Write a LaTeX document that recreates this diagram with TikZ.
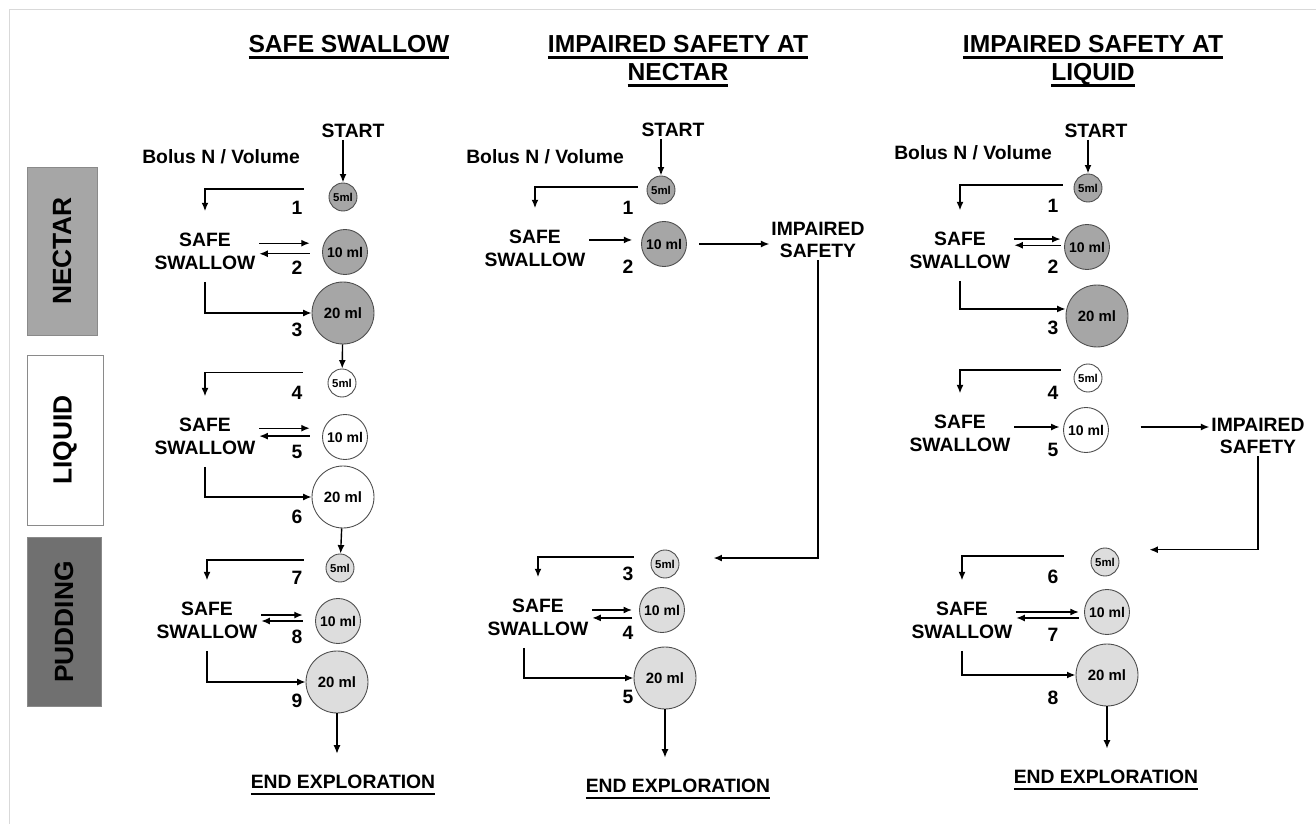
\documentclass[tikz,border=0pt]{standalone}
\usepackage{fontspec}
\setmainfont{Liberation Sans}
\usetikzlibrary{arrows.meta}
\definecolor{Nectar}{HTML}{A6A6A6}
\definecolor{Pudding}{HTML}{707070}
\definecolor{Light}{HTML}{DDDDDD}
\definecolor{Edge}{HTML}{8A8A8A}
\newcommand{\ulbar}[1]{\setbox0\hbox{#1}\rlap{\rule[-3.5pt]{\wd0}{1.3pt}}\box0}

\begin{document}
\begin{tikzpicture}[x=0.02cm,y=-0.02cm,
  title/.style={font=\bfseries\fontsize{14}{16}\selectfont,align=center},
  lbl/.style={font=\bfseries\fontsize{11}{13}\selectfont,inner sep=1pt},
  ss/.style={lbl,align=center,inner xsep=2pt,inner ysep=7pt},
  bolus/.style={circle,draw=black!70,line width=.5pt,inner sep=0pt,
    font=\bfseries\fontsize{8}{9}\selectfont},
  s5/.style={bolus,minimum size=.56cm,font=\bfseries\fontsize{6.5}{7}\selectfont},
  s10/.style={bolus,minimum size=.9cm},
  s20/.style={bolus,minimum size=1.24cm,font=\bfseries\fontsize{8.5}{9}\selectfont},
  nec/.style={fill=Nectar},liq/.style={fill=white},pud/.style={fill=Light},
  bar/.style={draw=Edge,rotate=90,font=\bfseries\fontsize{15}{17}\selectfont},
  arrow/.style={-{Latex[length=1.7mm,width=1.4mm]},line width=.8pt}]
\useasboundingbox (0,0) rectangle (1316,824);
\draw[black!15] (9,824) -- (9,9) -- (1316,9);

% consistency bars
\node[bar,fill=Nectar,minimum width=3.36cm,minimum height=1.4cm](nectar) at (62,251){NECTAR};
\node[bar,fill=white,minimum width=3.4cm,minimum height=1.52cm](liquid) at (65,440){LIQUID};
\node[bar,fill=Pudding,minimum width=3.38cm,minimum height=1.48cm](pudding) at (64,622){PUDDING};

% safe swallow
\node[title](aT) at (349,47){\ulbar{SAFE SWALLOW}};
\node[lbl](aS) at (353,131){START};
\node[lbl](aB) at (221,157){Bolus N / Volume};
\node[s5,nec](aN5) at (343,197){5ml};
\node[s10,nec](aN10) at (345,252){10 ml};
\node[s20,nec](aN20) at (343,313){20 ml};
\node[lbl](a1) at (297,208){1};
\node[lbl](a2) at (297,268){2};
\node[lbl](a3) at (297,330){3};
\node[ss](aNs) at (205,251){SAFE\\SWALLOW};
\node[s5,liq](aL5) at (342,383){5ml};
\node[s10,liq](aL10) at (345,437){10 ml};
\node[s20,liq](aL20) at (343,497){20 ml};
\node[lbl](a4) at (297,393){4};
\node[lbl](a5) at (297,452){5};
\node[lbl](a6) at (297,517){6};
\node[ss](aLs) at (205,436){SAFE\\SWALLOW};
\node[s5,pud](aP5) at (340,568){5ml};
\node[s10,pud](aP10) at (338,621){10 ml};
\node[s20,pud](aP20) at (337,682){20 ml};
\node[lbl](a7) at (297,578){7};
\node[lbl](a8) at (297,637){8};
\node[lbl](a9) at (297,701){9};
\node[ss](aPs) at (207,620){SAFE\\SWALLOW};
\node[lbl](aE) at (343,785){\ulbar{END EXPLORATION}};

\draw[arrow,line width=1.1pt](aS.south -| aN5)--(aN5);
\draw[arrow,line width=1.1pt]([xshift=-.5cm,yshift=4.5pt]aN5.west)-|([yshift=5pt]aNs.north);
\draw[arrow,shorten >=7pt]([yshift=5pt]aN10.west -| aNs.east)--([yshift=5pt]aN10.west);
\draw[arrow,shorten <=7pt]([yshift=-1pt]aN10.west)--([yshift=-1pt]aN10.west -| aNs.east);
\draw[arrow](aNs.south)|-(aN20.west);
\draw[arrow](aN20)--(aL5);
\draw[arrow]([xshift=-.5cm,yshift=6pt]aL5.west)-|([yshift=5pt]aLs.north);
\draw[arrow,shorten >=7pt]([yshift=5pt]aL10.west -| aLs.east)--([yshift=5pt]aL10.west);
\draw[arrow,shorten <=7pt]([yshift=.5pt]aL10.west)--([yshift=.5pt]aL10.west -| aLs.east);
\draw[arrow](aLs.south)|-(aL20.west);
\draw[arrow](aL20)--(aP5);
\draw[arrow]([xshift=-.44cm,yshift=4.5pt]aP5.west)-|([yshift=5pt]aPs.north);
\draw[arrow,shorten >=7pt]([yshift=3.4pt]aP10.west -| aPs.east)--([yshift=3.4pt]aP10.west);
\draw[arrow,shorten <=7pt](aP10.west)--(aP10.west -| aPs.east);
\draw[arrow](aPs.south)|-(aP20.west);
\draw[arrow,shorten >=11pt](aP20)--(aP20 |- aE.north);

% impaired safety at nectar
\node[title](bT) at (678,61){\ulbar{IMPAIRED SAFETY AT}\\\ulbar{NECTAR}};
\node[lbl](bS) at (673,130){START};
\node[lbl](bB) at (545,157){Bolus N / Volume};
\node[s5,nec](bN5) at (661,190){5ml};
\node[s10,nec](bN10) at (664,244){10 ml};
\node[lbl](b1) at (628,208){1};
\node[lbl](b2) at (628,267){2};
\node[ss](bNs) at (535,248){SAFE\\SWALLOW};
\node[lbl,align=center](bI) at (818,240){IMPAIRED\\SAFETY};
\node[s5,pud](bP5) at (665,564){5ml};
\node[s10,pud](bP10) at (662,610){10 ml};
\node[s20,pud](bP20) at (665,678){20 ml};
\node[lbl](b3) at (628,574){3};
\node[lbl](b4) at (628,633){4};
\node[lbl](b5) at (628,697){5};
\node[ss](bPs) at (538,617){SAFE\\SWALLOW};
\node[lbl](bE) at (678,789){\ulbar{END EXPLORATION}};

\draw[arrow,line width=1.1pt](bS.south -| bN5)--(bN5);
\draw[arrow,line width=1.1pt]([xshift=-.18cm,yshift=1.7pt]bN5.west)-|([yshift=5pt]bNs.north);
\draw[arrow,shorten >=5pt]([yshift=2.3pt]bN10.west -| bNs.east)--([yshift=2.3pt]bN10.west);
\draw[arrow,shorten <=7pt](bN10.east)--(bN10.east -| bI.west);
\draw[arrow,line width=1.1pt](bI.south)|-([xshift=.68cm,yshift=3.4pt]bP5.east);
\draw[arrow,line width=1.1pt]([xshift=-.34cm,yshift=4pt]bP5.west)-|([yshift=5pt]bPs.north);
\draw[arrow,shorten >=4pt](bP10.west -| bPs.east)--(bP10.west);
\draw[arrow,shorten <=4pt]([yshift=-4.5pt]bP10.west)--([yshift=-4.5pt]bP10.west -| bPs.east);
\draw[arrow,line width=1.1pt]([xshift=-8pt]bPs.south)|-(bP20.west);
\draw[arrow,line width=1.1pt,shorten >=11pt](bP20)--(bP20 |- bE.north);

% impaired safety at liquid
\node[title](cT) at (1093,61){\ulbar{IMPAIRED SAFETY AT}\\\ulbar{LIQUID}};
\node[lbl](cS) at (1096,131){START};
\node[lbl](cB) at (973,153){Bolus N / Volume};
\node[s5,nec](cN5) at (1088,188){5ml};
\node[s10,nec](cN10) at (1087,247){10 ml};
\node[s20,nec](cN20) at (1097,316){20 ml};
\node[lbl](c1) at (1053,206){1};
\node[lbl](c2) at (1053,267){2};
\node[lbl](c3) at (1053,328){3};
\node[ss](cNs) at (960,250){SAFE\\SWALLOW};
\node[s5,liq](cL5) at (1088,378){5ml};
\node[s10,liq](cL10) at (1086,430){10 ml};
\node[lbl](c4) at (1053,393){4};
\node[lbl](c5) at (1053,450){5};
\node[ss](cLs) at (960,433){SAFE\\SWALLOW};
\node[lbl,align=center](cI) at (1258,436){IMPAIRED\\SAFETY};
\node[s5,pud](cP5) at (1105,562){5ml};
\node[s10,pud](cP10) at (1107,612){10 ml};
\node[s20,pud](cP20) at (1107,675){20 ml};
\node[lbl](c6) at (1053,577){6};
\node[lbl](c7) at (1053,635){7};
\node[lbl](c8) at (1053,698){8};
\node[ss](cPs) at (962,620){SAFE\\SWALLOW};
\node[lbl](cE) at (1106,780){\ulbar{END EXPLORATION}};

\draw[arrow,line width=1.1pt](cS.south -| cN5)--(cN5);
\draw[arrow]([xshift=-.22cm,yshift=1.7pt]cN5.west)-|([yshift=5pt]cNs.north);
\draw[arrow,shorten >=2pt]([yshift=4.5pt]cN10.west -| cNs.east)--([yshift=4.5pt]cN10.west);
\draw[arrow,shorten <=2pt]([yshift=1pt]cN10.west)--([yshift=1pt]cN10.west -| cNs.east);
\draw[arrow](cNs.south)|-([yshift=4pt]cN20.west);
\draw[arrow]([xshift=-.26cm,yshift=4.5pt]cL5.west)-|([yshift=5pt]cLs.north);
\draw[arrow,shorten >=2pt]([yshift=1.7pt]cL10.west -| cLs.east)--([yshift=1.7pt]cL10.west);
\draw[arrow,shorten <=18pt]([yshift=1.7pt]cL10.east)--([yshift=1.7pt]cL10.east -| cI.west);
\draw[arrow](cI.south)|-([xshift=.6cm,yshift=7pt]cP5.east);
\draw[arrow]([xshift=-.54cm,yshift=3.4pt]cP5.west)-|([yshift=5pt]cPs.north);
\draw[arrow,shorten >=3pt](cP10.west -| cPs.east)--(cP10.west);
\draw[arrow,shorten <=3pt]([yshift=-3.4pt]cP10.west)--([yshift=-3.4pt]cP10.west -| cPs.east);
\draw[arrow,line width=1.1pt](cPs.south)|-(cP20.west);
\draw[arrow,line width=1.1pt,shorten >=11pt](cP20)--(cP20 |- cE.north);
\end{tikzpicture}
\end{document}
